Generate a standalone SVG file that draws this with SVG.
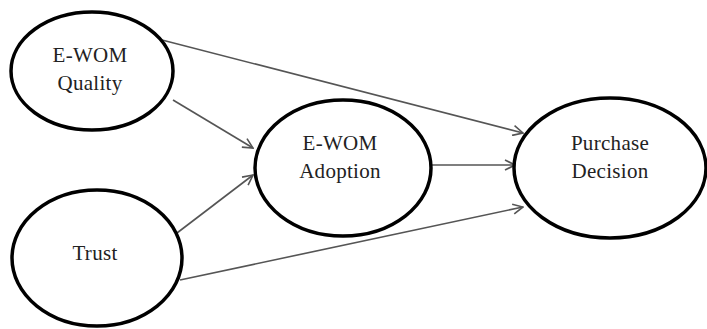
<svg xmlns="http://www.w3.org/2000/svg" width="707" height="329" viewBox="0 0 707 329">
<defs>
<style>
.node ellipse{fill:#fff;stroke:#000;stroke-width:3.5}
.node text{font-family:"Liberation Serif","Times New Roman",serif;font-size:21px;letter-spacing:0.3px;fill:#222;text-anchor:middle}
.conn line{stroke:#555;stroke-width:1.6;fill:none;marker-end:url(#arr)}
</style>
<marker id="arr" viewBox="0 0 12 12" refX="11" refY="6" markerWidth="12" markerHeight="12" markerUnits="userSpaceOnUse" orient="auto">
<path d="M1,1 L11,6 L1,11" fill="none" stroke="#555" stroke-width="1.6"/>
</marker>
</defs>
<rect width="707" height="329" fill="#fff"/>
<g class="conn" id="connectors">
<line x1="162" y1="40" x2="523" y2="133"/>
<line x1="173" y1="100" x2="253" y2="148"/>
<line x1="177" y1="233" x2="253" y2="175"/>
<line x1="180" y1="280" x2="523" y2="207"/>
<line x1="432" y1="165" x2="515" y2="165"/>
</g>
<g class="node" id="ewom-quality">
<ellipse cx="92" cy="71" rx="81" ry="59"/>
<text x="90" y="62">E-WOM</text>
<text x="90" y="90">Quality</text>
</g>
<g class="node" id="trust">
<ellipse cx="97" cy="258" rx="85" ry="68"/>
<text x="95" y="260">Trust</text>
</g>
<g class="node" id="ewom-adoption">
<ellipse cx="343" cy="168" rx="88" ry="68"/>
<text x="340" y="150">E-WOM</text>
<text x="340" y="178">Adoption</text>
</g>
<g class="node" id="purchase-decision">
<ellipse cx="610" cy="168" rx="96" ry="70"/>
<text x="610" y="150">Purchase</text>
<text x="610" y="178">Decision</text>
</g>
</svg>
